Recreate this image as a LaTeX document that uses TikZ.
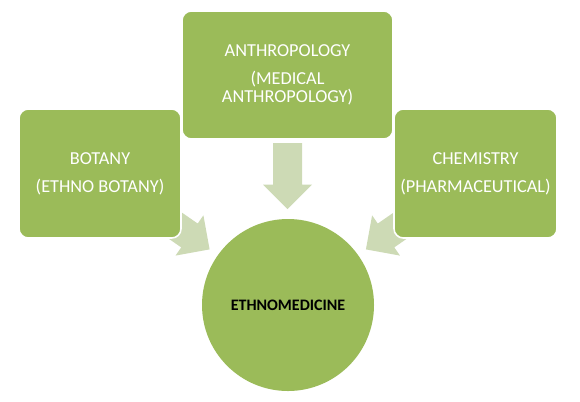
\documentclass[tikz,border=0pt]{standalone}
\usepackage{fontspec}
\setmainfont{Carlito}
\definecolor{boxgreen}{HTML}{9BBB59}
\definecolor{arrowgreen}{HTML}{CDDAB5}
\tikzset{
  px/.style={x=0.75pt,y=-0.75pt},
  fieldbox/.style={rectangle, rounded corners=7pt, fill=boxgreen, draw=white, line width=1.2pt,
    text=white, align=center, inner sep=0pt,
    font=\fontsize{13.7pt}{13.5pt}\selectfont},
  hub/.style={circle, fill=boxgreen, draw=none, inner sep=0pt, minimum size=172*0.75pt,
    text=black, font=\fontsize{12pt}{14pt}\selectfont\bfseries},
  flowarrow/.style={fill=arrowgreen, draw=none}
}
\newcommand{\convarrow}[2]{%
  \begin{scope}[shift={(#1)}, rotate=#2]
    \fill[flowarrow] (0,0) -- (-24.5,24.5) -- (-24.5,14.5) -- (-66,14.5) -- (-66,-14.5)
      -- (-24.5,-14.5) -- (-24.5,-24.5) -- cycle;
  \end{scope}}
\begin{document}
\begin{tikzpicture}[px]
  \useasboundingbox (0,0) rectangle (580,401);
  % arrow tips
  \coordinate (tipL) at (209.6,249.4);
  \coordinate (tipT) at (287.5,209);
  \coordinate (tipR) at (365.9,249.4);
  \convarrow{tipL}{-34.7}
  \convarrow{tipT}{-90}
  \convarrow{tipR}{-145.3}
  % boxes
  \node[fieldbox, minimum width=211*0.75pt, minimum height=128*0.75pt] (anthro) at (287.5,75)
    {ANTHROPOLOGY\\[7.5pt](MEDICAL\\ANTHROPOLOGY)};
  \node[fieldbox, minimum width=162*0.75pt, minimum height=129*0.75pt] (botany) at (100,173.5)
    {BOTANY\\[7.5pt](ETHNO BOTANY)};
  \node[fieldbox, minimum width=163*0.75pt, minimum height=129*0.75pt] (chem) at (475.5,173.5)
    {CHEMISTRY\\[7.5pt](PHARMACEUTICAL)};
  % hub
  \node[hub] (ethno) at (288,305) {ETHNOMEDICINE};
\end{tikzpicture}
\end{document}
